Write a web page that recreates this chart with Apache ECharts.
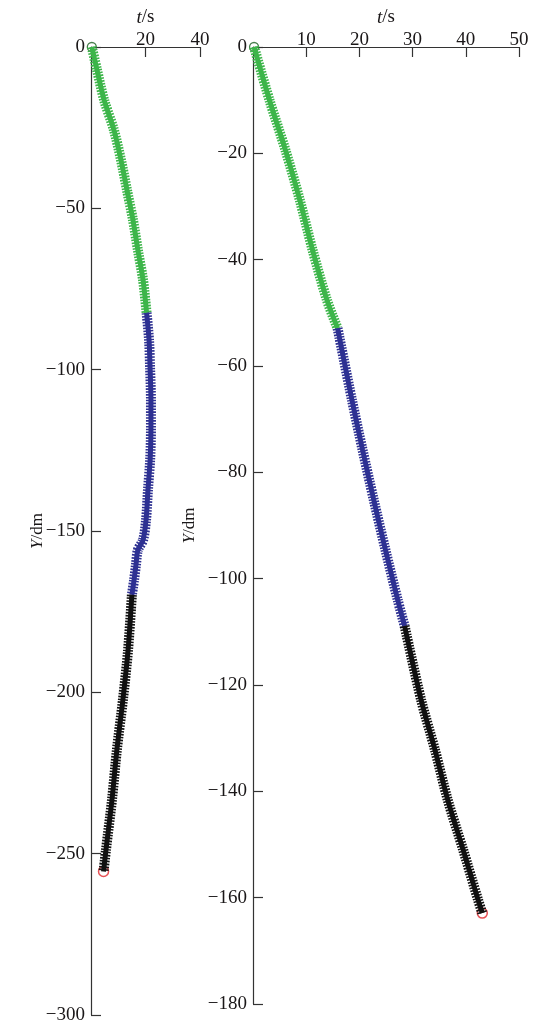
<!DOCTYPE html>
<html>
<head>
<meta charset="utf-8">
<script src="https://cdn.jsdelivr.net/npm/echarts@6/dist/echarts.min.js"></script>
<style>html,body{margin:0;padding:0;background:#fff;}#c{width:535px;height:1025px;}</style>
</head>
<body>
<div id="c"></div>
<script>
// Left chart: [t (s), Y (dm)]
const leftGreen = [[0.3,0],[2.2,-7.1],[4.8,-16.4],[8.4,-25.7],[11,-35],[13.2,-44.3],[15.4,-53.6],[17.2,-62.9],[19.1,-72.2],[20.4,-82.4]];
const leftBlue = [[20.4,-82.4],[21.3,-90.8],[21.7,-100],[22,-109.4],[22,-118.7],[21.7,-128],[20.9,-137.3],[20.2,-146.6],[19.1,-152.8],[17.2,-155.9],[16.5,-160.5],[15.8,-165.2],[15.0,-169.8]];
const leftBlack = [[15.0,-169.8],[13.6,-186.9],[11.7,-202.4],[9.5,-217.8],[7.7,-233.3],[5.5,-248.8],[4.6,-255.5]];
// Right chart: [t (s), Y (dm)]
const rightGreen = [[0.2,0],[3.1,-10],[6.1,-19.4],[8.8,-28.8],[11.2,-38.2],[13.9,-47.6],[15.9,-52.9]];
const rightBlue = [[15.9,-52.9],[18.6,-66.4],[20.6,-75.8],[22.7,-85.2],[24.9,-94.6],[27.2,-104],[28.5,-108.9]];
const rightBlack = [[28.5,-108.9],[31.6,-122.8],[34.2,-132.2],[36.6,-141.6],[39.5,-151],[42.3,-160.4],[43.1,-162.9]];

const leftX = {min:0, max:40, interval:20};
const leftY = {min:-300, max:0, interval:50};
const rightX = {min:0, max:50, interval:10};
const rightY = {min:-180, max:0, interval:20};

const GREEN = '#3db54a', BLUE = '#2e3192', BLACK = '#111111', RED = '#e0262b';
const FONT = 'Liberation Serif';
const txt = {fontFamily: FONT, fontSize: 19, color: '#1a1718'};
const minus = v => String(v).replace('-', '\u2212');

function xAxis(gi, s) {
  return {
    gridIndex: gi, type: 'value', position: 'top', min: s.min, max: s.max, interval: s.interval,
    name: '{i|t}/s', nameLocation: 'middle', nameGap: 20, nameMoveOverlap: false,
    nameTextStyle: Object.assign({}, txt, {rich: {i: Object.assign({}, txt, {fontStyle: 'italic'})}}),
    axisLine: {lineStyle: {color: '#333', width: 1.2}},
    axisTick: {inside: true, length: 10, lineStyle: {color: '#333', width: 1.2}},
    axisLabel: Object.assign({}, txt, {margin: -3, showMinLabel: false, formatter: minus}),
    splitLine: {show: false}
  };
}
function yAxis(gi, s, gap) {
  return {
    gridIndex: gi, type: 'value', min: s.min, max: s.max, interval: s.interval,
    name: '{i|Y}/dm', nameLocation: 'middle', nameGap: gap, nameRotate: 90, nameMoveOverlap: false,
    nameTextStyle: Object.assign({}, txt, {fontSize: 17, rich: {i: Object.assign({}, txt, {fontSize: 17, fontStyle: 'italic'})}}),
    axisLine: {onZero: false, lineStyle: {color: '#333', width: 1.2}},
    axisTick: {inside: true, length: 10, lineStyle: {color: '#333', width: 1.2}},
    axisLabel: Object.assign({}, txt, {margin: 6, formatter: minus}),
    splitLine: {show: false}
  };
}
function seg(data, color, gi) {
  return [
    {type: 'line', xAxisIndex: gi, yAxisIndex: gi, data: data, smooth: 0.3, showSymbol: false, silent: true,
     lineStyle: {color: color, width: 5}},
    {type: 'line', xAxisIndex: gi, yAxisIndex: gi, data: data, smooth: 0.3, showSymbol: false, silent: true,
     lineStyle: {color: color, width: 10, type: [1.6, 1.3], cap: 'butt'}}
  ];
}
function endPts(first, last, gi) {
  return [
    {type: 'scatter', xAxisIndex: gi, yAxisIndex: gi, data: [first], symbol: 'circle', symbolSize: 9, silent: true,
     itemStyle: {color: 'rgba(0,0,0,0)', borderColor: '#1a5e20', borderWidth: 1.3}},
    {type: 'scatter', xAxisIndex: gi, yAxisIndex: gi, data: [last], symbol: 'circle', symbolSize: 10, silent: true,
     itemStyle: {color: 'rgba(0,0,0,0)', borderColor: RED, borderWidth: 1.5}}
  ];
}

const chart = echarts.init(document.getElementById('c'), null, {renderer: 'canvas'});
chart.setOption({
  animation: false,
  backgroundColor: '#fff',
  grid: [
    {left: 91, top: 47, width: 109, height: 968, containLabel: false, outerBoundsMode: 'none'},
    {left: 253, top: 47, width: 266, height: 957, containLabel: false, outerBoundsMode: 'none'}
  ],
  xAxis: [xAxis(0, leftX), xAxis(1, rightX)],
  yAxis: [yAxis(0, leftY, 45), yAxis(1, rightY, 55)],
  series: [].concat(
    seg(leftGreen, GREEN, 0), seg(leftBlue, BLUE, 0), seg(leftBlack, BLACK, 0),
    endPts(leftGreen[0], leftBlack[leftBlack.length - 1], 0),
    seg(rightGreen, GREEN, 1), seg(rightBlue, BLUE, 1), seg(rightBlack, BLACK, 1),
    endPts(rightGreen[0], rightBlack[rightBlack.length - 1], 1)
  )
});
</script>
</body>
</html>
